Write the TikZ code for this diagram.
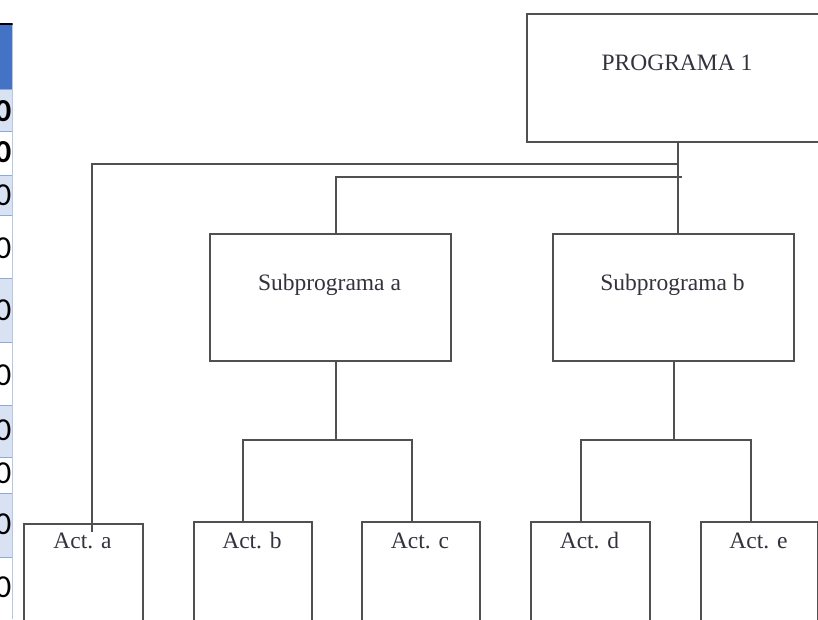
\documentclass[tikz,border=0pt]{standalone}
\usepackage{fontspec}
\setmainfont{Liberation Serif}
\newfontfamily\tabfont{Carlito}
\definecolor{hdrblue}{HTML}{4472C4}
\definecolor{rowblue}{HTML}{D9E2F3}
\definecolor{gridblue}{HTML}{8EAADB}
\definecolor{linegray}{HTML}{505050}
\definecolor{txtgray}{HTML}{33333D}
\begin{document}
\begin{tikzpicture}[x=1pt,y=-1pt,
  box/.style={draw=linegray,line width=2.1pt,rectangle,inner sep=0pt,anchor=north west},
  conn/.style={draw=linegray,line width=2.1pt,line join=miter},
  lbl/.style={text=txtgray,inner sep=0pt,anchor=base,font=\fontsize{23.5}{28}\selectfont},
  zero/.style={anchor=east,inner sep=0pt,font=\tabfont\fontsize{32}{36}\selectfont},
  zerob/.style={zero,font=\tabfont\bfseries\fontsize{32}{36}\selectfont}]
\useasboundingbox (0,0) rectangle (818,619);
\fill[white] (0,0) rectangle (818,619);
% cropped table on the left
\begin{scope}
  \clip (0,0) rectangle (12.6,619);
  \fill[hdrblue] (0,24) rectangle (12,89);
  \foreach \ya/\yb in {89/131,175/215,278/342,405/457,493/557}
    \fill[rowblue] (0,\ya) rectangle (12,\yb);
  \foreach \yy in {89,131,175,215,278,342,405,457,493,557}
    \draw[gridblue,line width=0.8pt] (0,\yy) -- (12,\yy);
  \draw[gridblue,line width=0.9pt] (12,24) -- (12,619);
  \draw[black,line width=1.6pt] (0,24) -- (12.6,24);
  \node[zerob] (z1) at (11.5,111) {0};
  \node[zerob] (z2) at (11.5,152) {0};
  \node[zero] (z3) at (11.5,195) {0};
  \node[zero] (z4) at (11.5,248) {0};
  \node[zero] (z5) at (11.5,310) {0};
  \node[zero] (z6) at (11.5,375) {0};
  \node[zero] (z7) at (11.5,430) {0};
  \node[zero] (z8) at (11.5,473) {0};
  \node[zero] (z9) at (11.5,524) {0};
  \node[zero] (z10) at (11.5,587) {0};
\end{scope}
% boxes
\node[box,minimum width=296pt,minimum height=128pt] (p1) at (526,13) {};
\node[box,minimum width=241pt,minimum height=127pt] (sa) at (209,233) {};
\node[box,minimum width=241pt,minimum height=127pt] (sb) at (552,233) {};
\node[box,minimum width=119pt,minimum height=120pt] (aa) at (23,523) {};
\node[box,minimum width=118pt,minimum height=120pt] (ab) at (193,521) {};
\node[box,minimum width=118pt,minimum height=120pt] (ac) at (361,521) {};
\node[box,minimum width=119pt,minimum height=120pt] (ad) at (530,521) {};
\node[box,minimum width=117pt,minimum height=120pt] (ae) at (700,521) {};
% labels
\node[lbl] (p1t) at (677,70) {PROGRAMA 1};
\node[lbl] (sat) at (329.5,290) {Subprograma a};
\node[lbl] (sbt) at (672.5,290) {Subprograma b};
\node[lbl] (aat) at (82.5,548) {Act. a};
\node[lbl] (abt) at (252,548) {Act. b};
\node[lbl] (act) at (420,548) {Act. c};
\node[lbl] (adt) at (589.5,548) {Act. d};
\node[lbl] (aet) at (758.5,548) {Act. e};
% junction coordinates
\coordinate (jtop) at (678,164);
\coordinate (jl) at (92,164);
\coordinate (aend) at (92,532);
\coordinate (jmid) at (682,177);
\coordinate (ja) at (336,177);
\coordinate (jsa) at (336,440);
\coordinate (jb) at (243,440);
\coordinate (jc) at (412,440);
\coordinate (jsb) at (674,440);
\coordinate (jd) at (581,440);
\coordinate (je) at (751,440);
% connectors
\draw[conn] (p1.south -| jtop) -- (sb.north -| jtop);
\draw[conn] (aend) -- (jl) -- (jtop);
\draw[conn] (jmid) -- (ja) -- (sa.north -| ja);
\draw[conn] (sa.south -| jsa) -- (jsa);
\draw[conn] (ab.north -| jb) -- (jb) -- (jc) -- (ac.north -| jc);
\draw[conn] (sb.south -| jsb) -- (jsb);
\draw[conn] (ad.north -| jd) -- (jd) -- (je) -- (ae.north -| je);
\end{tikzpicture}
\end{document}
